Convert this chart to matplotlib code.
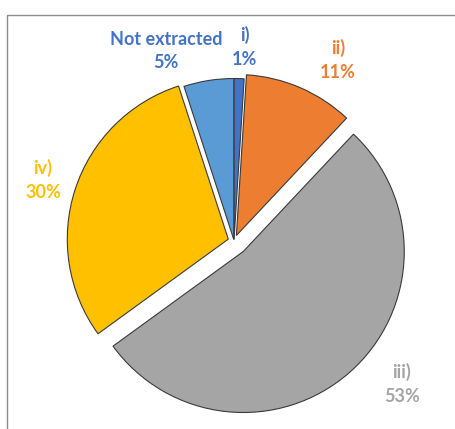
import matplotlib.pyplot as plt
from matplotlib.patches import Rectangle

names = ['i)', 'ii)', 'iii)', 'iv)', 'Not extracted']
values = [1, 11, 53, 30, 5]
colors = ['#4472C4', '#ED7D31', '#A5A5A5', '#FFC000', '#5B9BD5']
label_colors = ['#4472C4', '#ED7D31', '#A5A5A5', '#FFC000', '#4472C4']
# offsets in pixels (pie explode is not scaled by radius)
explode = [1.5, 6, 14, 6, 1.5]

# label anchor points in pixel space (x, y from top)
label_pos = [(245, 47), (338, 60), (402, 384), (43, 180), (166, 51)]

W, H = 456, 429
fig = plt.figure(figsize=(W / 100, H / 100), dpi=100)
ax = fig.add_axes([0, 0, 1, 1])
ax.axis('off')

# outer chart frame, runs off the right and bottom
ax.add_patch(Rectangle((7.5, -10), 480, H - 14.5 + 10, fill=False,
                       edgecolor='#8c8c8c', linewidth=1.0))

ax.pie(values, colors=colors, explode=explode, startangle=90,
       counterclock=False, center=(234, H - 241), radius=161,
       wedgeprops=dict(edgecolor='#3a3a3a', linewidth=0.8))
ax.set_xlim(0, W)
ax.set_ylim(0, H)
ax.set_aspect('equal')

for name, v, c, (x, y) in zip(names, values, label_colors, label_pos):
    ax.text(x, H - y, f'{name}\n{v}%', color=c, ha='center', va='center',
            fontsize=13, fontweight='bold', family='Lato', linespacing=1.45)

fig.savefig('out.png', dpi=100)
